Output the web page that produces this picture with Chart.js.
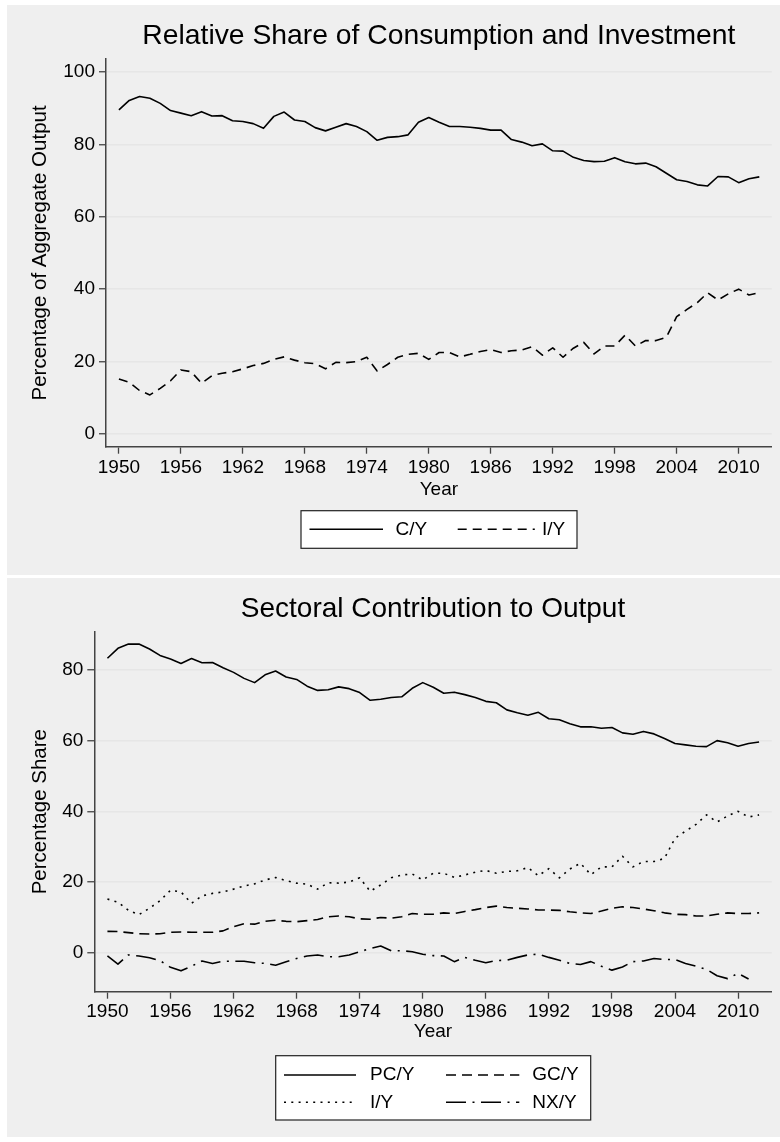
<!DOCTYPE html>
<html><head><meta charset="utf-8">
<script src="https://cdn.jsdelivr.net/npm/chart.js@4.4.1/dist/chart.umd.min.js"></script>
<style>
html,body{margin:0;padding:0;background:#fff;}
body{width:780px;height:1142px;position:relative;overflow:hidden;}
.panel{position:absolute;left:7px;width:773px;background:#efefef;}
#p1{top:5px;height:570px;}
#p2{top:578px;height:559px;}
canvas{display:block;}
</style></head><body>
<div class="panel" id="p1"><canvas id="c1" width="773" height="570"></canvas></div>
<div class="panel" id="p2"><canvas id="c2" width="773" height="559"></canvas></div>
<script>
const years = [1950,1951,1952,1953,1954,1955,1956,1957,1958,1959,
  1960,1961,1962,1963,1964,1965,1966,1967,1968,1969,
  1970,1971,1972,1973,1974,1975,1976,1977,1978,1979,
  1980,1981,1982,1983,1984,1985,1986,1987,1988,1989,
  1990,1991,1992,1993,1994,1995,1996,1997,1998,1999,
  2000,2001,2002,2003,2004,2005,2006,2007,2008,2009,
  2010,2011,2012];
const xTicks = [1950,1956,1962,1968,1974,1980,1986,1992,1998,2004,2010];
const yTicksTop = [0,20,40,60,80,100];
const yTicksBottom = [0,20,40,60,80];

const cY = [89.5,92.1,93.2,92.7,91.3,89.3,88.6,87.9,89.0,87.8,
  87.9,86.5,86.3,85.7,84.4,87.7,88.9,86.7,86.3,84.6,
  83.7,84.7,85.7,84.9,83.5,81.1,81.9,82.1,82.6,86.1,
  87.4,86.1,84.9,84.9,84.7,84.4,83.9,83.9,81.3,80.6,
  79.6,80.1,78.2,78.1,76.4,75.5,75.2,75.3,76.3,75.2,
  74.6,74.8,73.8,72.0,70.2,69.7,68.8,68.5,71.1,71.0,
  69.4,70.5,71.0];
const iY = [15.2,14.3,12.0,10.8,12.6,14.7,17.7,17.2,14.0,16.1,
  16.8,17.2,18.0,18.9,19.5,20.6,21.3,20.4,19.7,19.4,
  18.0,19.8,19.7,20.0,21.2,17.4,19.2,21.2,22.0,22.3,
  20.6,22.5,22.5,21.3,22.0,22.8,23.3,22.5,23.0,23.2,
  24.1,21.8,23.8,21.2,23.7,25.3,22.1,24.3,24.3,27.3,
  24.3,25.8,25.8,26.7,32.4,34.4,36.3,39.0,37.0,38.7,
  40.0,38.4,39.0];
const pcY = [83.3,86.1,87.3,87.3,85.9,84.1,83.1,81.8,83.2,82.0,
  82.1,80.6,79.3,77.6,76.4,78.6,79.7,78.0,77.3,75.4,
  74.2,74.4,75.2,74.7,73.6,71.4,71.7,72.2,72.4,74.8,
  76.4,75.1,73.4,73.7,73.0,72.2,71.1,70.7,68.7,67.9,
  67.2,68.0,66.2,65.9,64.8,63.9,63.9,63.5,63.7,62.2,
  61.8,62.6,61.9,60.6,59.2,58.8,58.4,58.3,60.0,59.4,
  58.4,59.2,59.6];
const gcY = [6.05,6.0,5.7,5.4,5.3,5.4,5.8,5.9,5.8,5.8,
  5.8,6.2,7.4,8.2,8.1,8.9,9.2,8.9,8.8,9.1,
  9.4,10.2,10.4,10.2,9.6,9.5,10.0,9.8,10.2,11.1,
  10.9,10.9,11.3,11.1,11.7,12.2,12.8,13.2,12.8,12.6,
  12.4,12.1,12.1,12.0,11.6,11.3,11.1,11.8,12.6,13.0,
  12.8,12.4,11.9,11.3,10.9,10.8,10.4,10.4,10.9,11.3,
  11.1,11.1,11.3];
const nxY = [-0.9,-3.2,-0.6,-0.9,-1.4,-2.2,-4.1,-5.1,-3.8,-2.3,
  -3.0,-2.4,-2.4,-2.4,-2.8,-3.0,-3.5,-2.5,-1.6,-0.9,
  -0.6,-1.1,-1.1,-0.6,0.3,1.2,1.9,0.6,0.6,0.3,
  -0.4,-0.8,-0.9,-2.5,-1.3,-2.1,-2.8,-2.2,-2.1,-1.3,
  -0.6,-0.4,-1.3,-2.1,-3.0,-3.3,-2.5,-3.8,-4.9,-4.0,
  -2.5,-2.3,-1.6,-1.9,-1.9,-3.0,-3.8,-4.7,-6.5,-7.3,
  -5.8,-7.4,null];

const FONT = '"Liberation Sans", Arial, Helvetica, sans-serif';
Chart.defaults.font.family = FONT;
Chart.defaults.font.size = 19;
Chart.defaults.color = '#000';

const pts = arr => years.map((yr, i) => ({x: yr, y: arr[i]}));

const boxLegend = {
  id: 'boxLegend',
  afterDraw(chart, args, opts) {
    const ctx = chart.ctx;
    const [bx, by, bw, bh] = opts.box;
    ctx.save();
    ctx.fillStyle = '#fff';
    ctx.fillRect(bx, by, bw, bh);
    ctx.strokeStyle = '#222'; ctx.lineWidth = 1.2; ctx.setLineDash([]);
    ctx.strokeRect(bx, by, bw, bh);
    ctx.font = '19px ' + FONT;
    ctx.textBaseline = 'middle'; ctx.textAlign = 'left';
    opts.items.forEach(it => {
      const ds = chart.data.datasets[it.ds];
      ctx.beginPath();
      ctx.setLineDash(ds.borderDash || []);
      ctx.lineWidth = ds.borderWidth; ctx.strokeStyle = ds.borderColor;
      ctx.moveTo(it.x0, it.y); ctx.lineTo(it.x1, it.y); ctx.stroke();
      ctx.setLineDash([]);
      ctx.fillStyle = '#000';
      ctx.fillText(ds.label, it.tx, it.y);
    });
    ctx.restore();
  }
};

function lineDs(label, arr, dash) {
  return {label, data: pts(arr), borderColor: '#000', borderWidth: 1.6,
    borderDash: dash, pointRadius: 0, tension: 0, fill: false,
    borderJoinStyle: 'round', spanGaps: false};
}

function makeScales(o) {
  return {
    x: {type: 'linear', min: 1948.75, max: 2013.2,
      afterBuildTicks: s => { s.ticks = xTicks.map(v => ({value: v})); },
      afterFit: s => { s.height = 60; },
      ticks: {callback: v => String(v), padding: o.xPad, maxRotation: 0, autoSkip: false, color: '#000'},
      grid: {drawOnChartArea: false, drawTicks: true, tickLength: 7, tickColor: '#444', tickWidth: 1.3},
      border: {display: true, color: '#444', width: 1.5},
      title: {display: true, text: 'Year', color: '#000', padding: {top: 0, bottom: o.xTitlePad}}
    },
    y: {type: 'linear', min: o.ymin, max: o.ymax,
      afterBuildTicks: s => { s.ticks = o.yTicks.map(v => ({value: v})); },
      afterFit: s => { s.width = o.yWidth; },
      ticks: {callback: v => String(v), padding: 4, color: '#000'},
      grid: {color: '#e6e6e6', lineWidth: 1.5, tickLength: 7, tickColor: '#444', tickWidth: 1.3},
      border: {display: true, color: '#444', width: 1.5},
      title: {display: true, text: o.yTitle, color: '#000', font: {size: 20.5}, padding: {top: 20.7, bottom: 0}}
    }
  };
}

new Chart(document.getElementById('c1'), {
  type: 'line',
  data: {datasets: [
    lineDs('C/Y', cY, []),
    lineDs('I/Y', iY, [9, 6])
  ]},
  options: {
    responsive: false, animation: false, devicePixelRatio: 1,
    layout: {padding: {left: 0, top: 0, right: 8.3, bottom: 68.3}},
    scales: makeScales({ymin: -3.5, ymax: 103.5, yTicks: yTicksTop, yWidth: 99,
      yTitle: 'Percentage of Aggregate Output', xPad: 3, xTitlePad: 6}),
    plugins: {
      legend: {display: false}, tooltip: {enabled: false},
      title: {display: true, fullSize: false, text: 'Relative Share of Consumption and Investment',
        color: '#000', font: {size: 28.3, weight: 'normal'}, padding: {top: 14.5, bottom: 5.7}},
      boxLegend: {box: [294, 505.7, 276, 37.6], items: [
        {ds: 0, x0: 302.5, x1: 376, tx: 388.5, y: 524.3},
        {ds: 1, x0: 450.7, x1: 527.8, tx: 535, y: 524.3}
      ]}
    }
  },
  plugins: [boxLegend]
});

new Chart(document.getElementById('c2'), {
  type: 'line',
  data: {datasets: [
    lineDs('PC/Y', pcY, []),
    lineDs('GC/Y', gcY, [10, 6]),
    lineDs('I/Y', iY, [2, 5.3]),
    lineDs('NX/Y', nxY, [20, 6.5, 2, 6.5])
  ]},
  options: {
    responsive: false, animation: false, devicePixelRatio: 1,
    layout: {padding: {left: 0, top: 0, right: 8.3, bottom: 85.3}},
    scales: makeScales({ymin: -11, ymax: 90.8, yTicks: yTicksBottom, yWidth: 87.3,
      yTitle: 'Percentage Share', xPad: 1.5, xTitlePad: 8.6}),
    plugins: {
      legend: {display: false}, tooltip: {enabled: false},
      title: {display: true, fullSize: false, text: 'Sectoral Contribution to Output',
        color: '#000', font: {size: 28, weight: 'normal'}, padding: {top: 14.7, bottom: 5.4}},
      boxLegend: {box: [268.7, 477.7, 315, 64.3], items: [
        {ds: 0, x0: 277, x1: 349, tx: 363, y: 497},
        {ds: 1, x0: 439, x1: 512.3, tx: 525.3, y: 497},
        {ds: 2, x0: 277, x1: 349, tx: 363, y: 524.3},
        {ds: 3, x0: 439, x1: 512.3, tx: 525.3, y: 524.3}
      ]}
    }
  },
  plugins: [boxLegend]
});
</script>
</body></html>
